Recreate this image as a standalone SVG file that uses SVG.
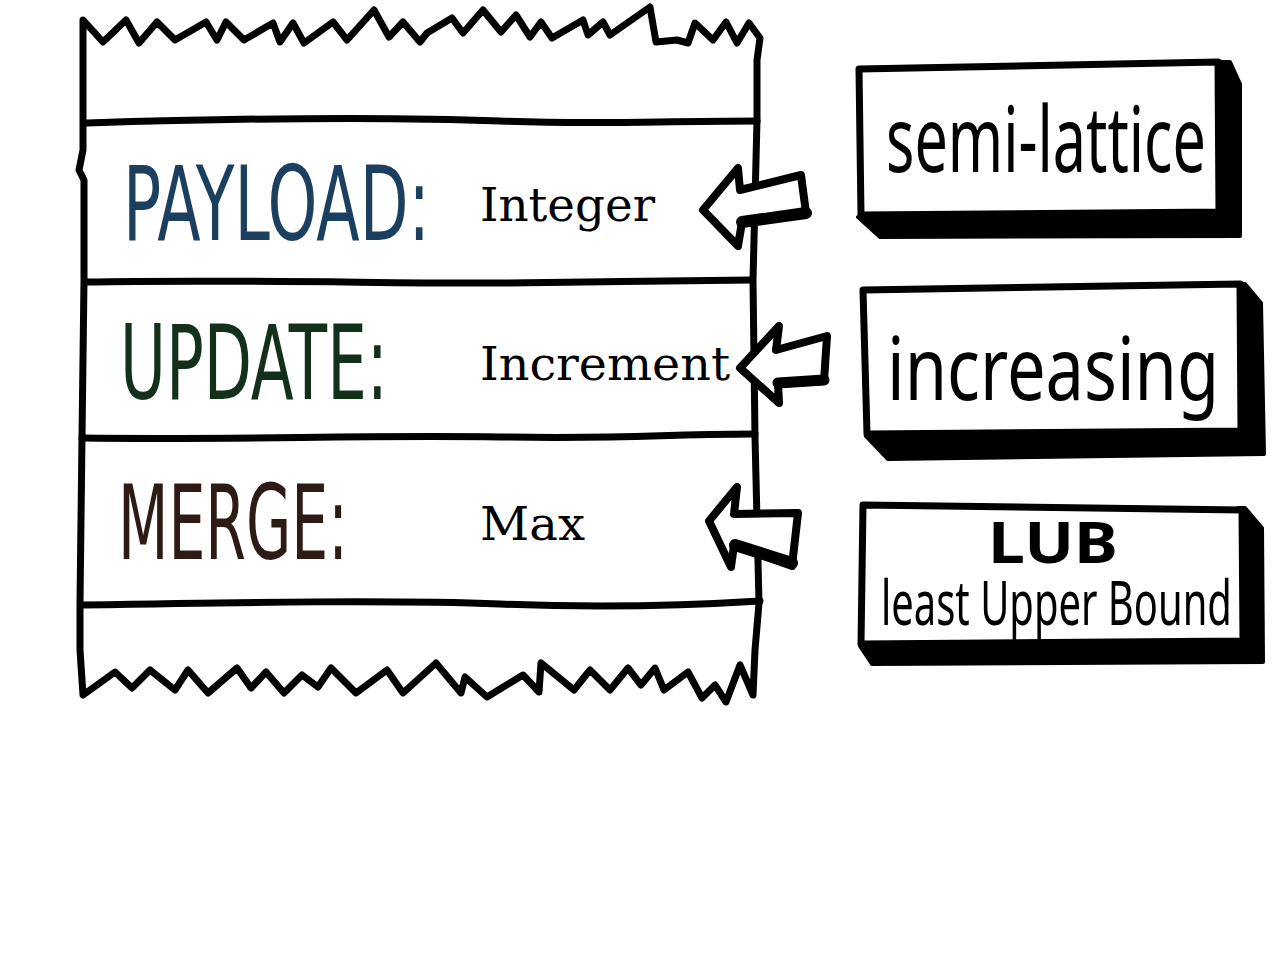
<svg xmlns="http://www.w3.org/2000/svg" width="1280" height="960" viewBox="0 0 1280 960">
<style>
.ink{fill:none;stroke:#000;stroke-width:7;stroke-linecap:round;stroke-linejoin:round}
.lbl{font-family:"DejaVu Sans",sans-serif;font-size:104px}
.val{font-family:"DejaVu Serif",serif;font-size:47px;fill:#000}
.hand{font-family:"Noto Sans",sans-serif;fill:#000}
.arrow{fill:#fff;stroke:#000;stroke-width:8;stroke-linejoin:round;stroke-linecap:round}
.face{fill:#fff;stroke:#000;stroke-width:7;stroke-linejoin:round}
</style>
<rect width="1280" height="960" fill="#fff"/>
<g id="crdt-box">
<path class="ink" fill="#fff" d="M83,20 L103,42 L126,20 L139,43 L157,22 L175,40 L206,22 L217,40 L226,22 L244,40 L273,23 L280,42 L293,23 L304,43 L333,22 L347,40 L374,10 L389,37 L403,22 L420,42 L427,33 L452,18 L463,33 L483,10 L501,32 L516,15 L530,37 L541,22 L552,38 L583,20 L588,35 L603,22 L610,35 L650,7 L656,42 L677,40 L688,43 L695,23 L713,40 L726,22 L737,43 L749,23 L760,38 L757,60 L757,120 L755,200 L753,280 L755,437 L757,520 L759,603 L755,650 L753,695 L740,665 L726,702 L715,685 L702,698 L688,672 L664,690 L655,668 L641,685 L628,668 L610,690 L590,670 L574,690 L541,663 L539,692 L523,675 L487,697 L465,677 L461,693 L436,663 L403,693 L387,670 L356,693 L331,668 L318,687 L302,675 L284,693 L266,672 L251,688 L237,668 L208,693 L188,670 L175,690 L150,670 L132,688 L115,672 L97,685 L83,695 L80,650 L80,603 L82,437 L84,280 L84,180 L79,170 L83,150 Z"/>
<path class="ink" d="M87,123 C250,118 400,117 500,121 S650,121 757,121"/>
<path class="ink" d="M85,282 C250,279 400,284 500,283 S650,281 752,280"/>
<path class="ink" d="M82,438 C250,440 350,435 500,437 S650,434 755,434"/>
<path class="ink" d="M82,605 C250,602 400,600 500,604 S680,606 760,601"/>
</g>
<g id="payload">
<text class="lbl" transform="translate(123,240) scale(0.587,1)" fill="#1b3f5f" textLength="523" lengthAdjust="spacingAndGlyphs">PAYLOAD:</text>
<text class="val" x="480" y="221" textLength="175" lengthAdjust="spacingAndGlyphs">Integer</text>
</g>
<g id="update">
<text class="lbl" transform="translate(120,399) scale(0.59,1)" fill="#13301b" textLength="454" lengthAdjust="spacingAndGlyphs">UPDATE:</text>
<text class="val" x="480" y="380" textLength="250" lengthAdjust="spacingAndGlyphs">Increment</text>
</g>
<g id="merge">
<text class="lbl" transform="translate(118,559) scale(0.562,1)" fill="#2e1b16" textLength="409" lengthAdjust="spacingAndGlyphs">MERGE:</text>
<text class="val" x="480" y="540" textLength="105" lengthAdjust="spacingAndGlyphs">Max</text>
</g>
<g id="connectors">
<path class="arrow" d="M703,210 L738,168 L740,190 L801,175 L806,213 L742,222 L738,246 Z"/>
<path d="M742,222 L806,213" stroke="#000" stroke-width="12" stroke-linecap="round"/>
<path class="arrow" d="M740,368 L779,326 L776,350 L827,336 L824,381 L778,384 L779,403 Z"/>
<path d="M778,383 L824,380" stroke="#000" stroke-width="11" stroke-linecap="round"/>
<path class="arrow" d="M709,521 L737,487 L734,514 L798,513 L792,566 L734,545 L731,567 Z"/>
<path d="M735,545 L792,563" stroke="#000" stroke-width="12" stroke-linecap="round"/>
</g>
<g id="semi-lattice">
<polygon points="1210,62 1230,62 1240,84 1240,236 880,237 858,217 1210,217" fill="#000" stroke="#000" stroke-width="4" stroke-linejoin="round"/>
<path class="face" d="M859,69 L1218,62 L1219,212 L861,215 Z"/>
<text class="hand" transform="translate(886,172) scale(0.653,1)" font-size="92" textLength="490" lengthAdjust="spacingAndGlyphs">semi-lattice</text>
</g>
<g id="increasing">
<polygon points="1235,284 1245,284 1261,303 1264,454 888,459 866,436 1235,436" fill="#000" stroke="#000" stroke-width="4" stroke-linejoin="round"/>
<path class="face" d="M863,290 L1240,284 L1241,431 L867,434 Z"/>
<text class="hand" transform="translate(887,400) scale(0.776,1)" font-size="88" textLength="428" lengthAdjust="spacingAndGlyphs">increasing</text>
</g>
<g id="lub">
<polygon points="1238,508 1245,508 1262,528 1263,662 872,664 860,646 1238,642" fill="#000" stroke="#000" stroke-width="4" stroke-linejoin="round"/>
<path class="face" d="M863,505 L1242,510 L1243,641 L861,644 Z"/>
<text class="hand" x="988" y="563" font-size="57" font-weight="bold" textLength="130" lengthAdjust="spacingAndGlyphs">LUB</text>
<text class="hand" transform="translate(881,625) scale(0.605,1)" font-size="62" textLength="580" lengthAdjust="spacingAndGlyphs">least Upper Bound</text>
</g>
</svg>
